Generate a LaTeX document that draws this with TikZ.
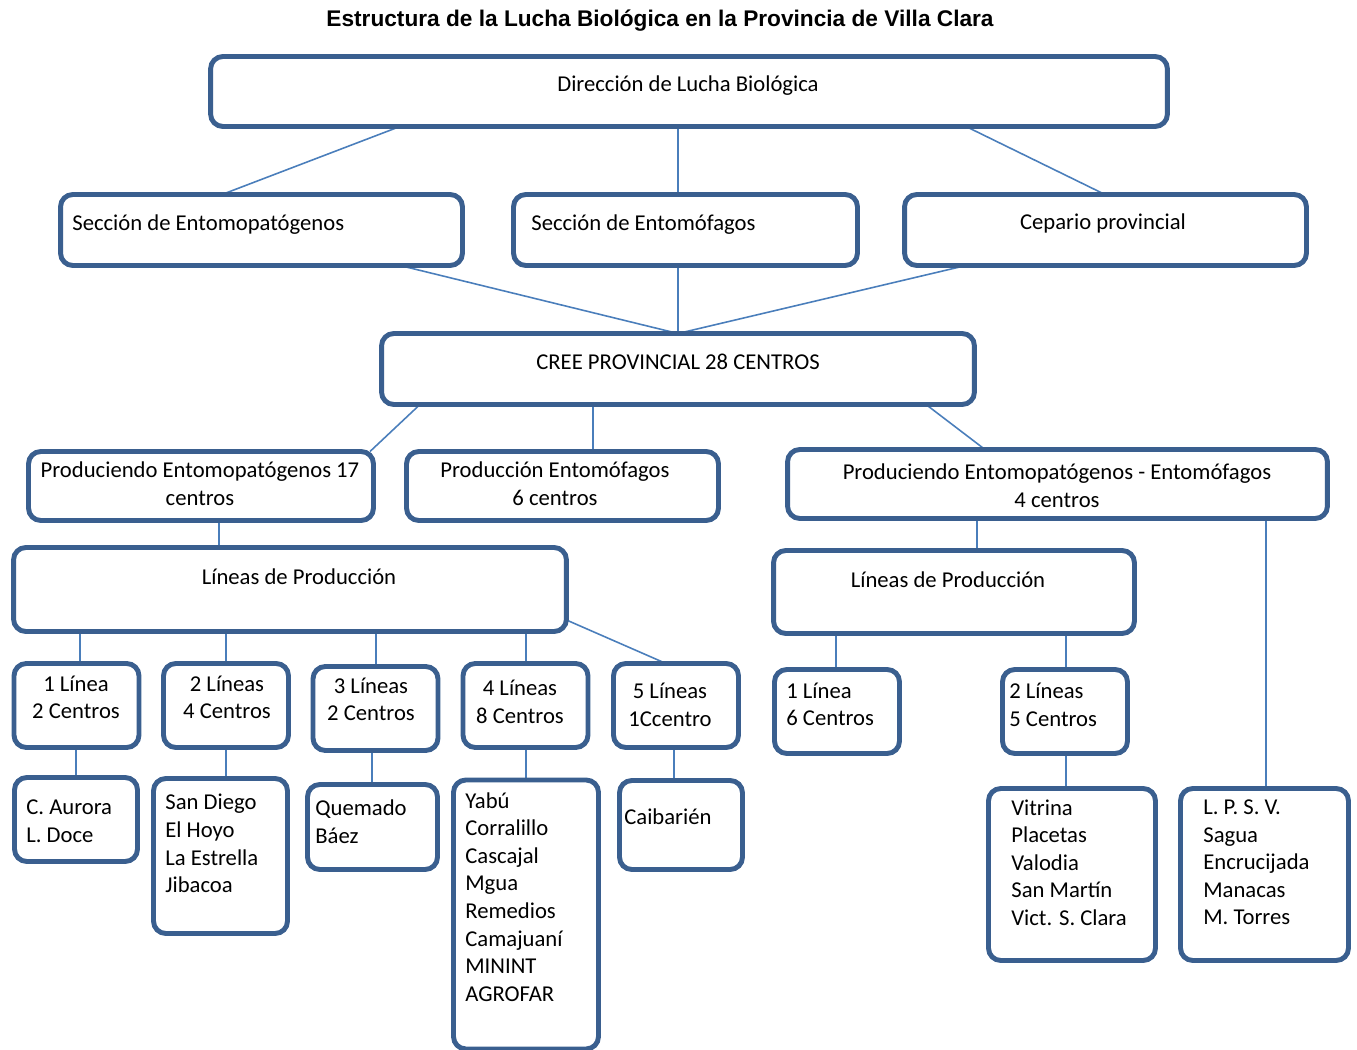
\documentclass[tikz,border=0pt]{standalone}
\usepackage{fontspec}
\setmainfont{Carlito}
\newfontfamily\titlefont{Liberation Sans}
\usepackage{tikz}
\usetikzlibrary{positioning,calc,backgrounds}
\definecolor{boxblue}{HTML}{3A5F8F}
\definecolor{linkblue}{HTML}{4A7EBB}
\tikzset{
   caja/.style={draw=boxblue, line width=2.8pt, rounded corners=7pt, fill=white,
      inner sep=0pt, outer sep=0pt},
   enlace/.style={draw=linkblue, line width=0.9pt},
   txt/.style={inner sep=0pt, font=\fontsize{12.9pt}{15.7pt}\selectfont},
   txtl/.style={txt, anchor=west, align=left},
   txtc/.style={txt, align=center}
}

\begin{document}
\begin{tikzpicture}[x=0.02cm, y=-0.02cm]
      \useasboundingbox (0,0) rectangle (1357,1050);

      \node[inner sep=0pt, font=\titlefont\bfseries\fontsize{12.9pt}{15pt}\selectfont]
         (titulo) at (660,21) {Estructura de la Lucha Biológica en la Provincia de Villa Clara};

      % cajas
      \node[caja, minimum width=19.14cm, minimum height=1.40cm] (dir) at (689,91.5) {};
      \node[caja, minimum width=8.04cm, minimum height=1.42cm] (secA) at (261.5,230) {};
      \node[caja, minimum width=6.88cm, minimum height=1.42cm] (secB) at (685.5,230) {};
      \node[caja, minimum width=8.04cm, minimum height=1.42cm] (cep) at (1105.5,230) {};
      \node[caja, minimum width=11.86cm, minimum height=1.42cm] (cree) at (678,369) {};
      \node[caja, minimum width=6.90cm, minimum height=1.38cm] (prodA) at (201,486) {};
      \node[caja, minimum width=6.24cm, minimum height=1.38cm] (prodB) at (562.5,486) {};
      \node[caja, minimum width=10.80cm, minimum height=1.38cm] (prodC) at (1057.5,484) {};
      \node[caja, minimum width=11.06cm, minimum height=1.68cm] (linA) at (290,589.5) {};
      \node[caja, minimum width=7.22cm, minimum height=1.66cm] (linB) at (954,592) {};

      \node[caja, minimum width=2.50cm, minimum height=1.68cm] (l1) at (76.5,705.5) {};
      \node[caja, minimum width=2.50cm, minimum height=1.68cm] (l2) at (226,705.5) {};
      \node[caja, minimum width=2.50cm, minimum height=1.68cm] (l3) at (375.5,708.5) {};
      \node[caja, minimum width=2.50cm, minimum height=1.68cm] (l4) at (525.5,705.5) {};
      \node[caja, minimum width=2.50cm, minimum height=1.68cm] (l5) at (676,705.5) {};
      \node[caja, minimum width=2.50cm, minimum height=1.68cm] (r1) at (837,711.5) {};
      \node[caja, minimum width=2.50cm, minimum height=1.68cm] (r2) at (1065,711.5) {};

      \node[caja, minimum width=2.46cm, minimum height=1.68cm] (bA) at (76,819.5) {};
      \node[caja, minimum width=2.68cm, minimum height=3.10cm] (bB) at (220.5,856) {};
      \node[caja, minimum width=2.60cm, minimum height=1.70cm] (bC) at (372.5,827) {};
      \node[caja, minimum width=2.90cm, minimum height=5.38cm] (bD) at (526,914.5) {};
      \node[caja, minimum width=2.46cm, minimum height=1.78cm] (bE) at (681,825) {};
      \node[caja, minimum width=3.34cm, minimum height=3.44cm] (bF) at (1072,874.5) {};
      \node[caja, minimum width=3.36cm, minimum height=3.44cm] (bG) at (1264.5,874.5) {};

      % textos
      \node[txtc] (tdir) at (688,86) {Dirección de Lucha Biológica};
      \node[txtl] (tsecA) at (72,225) {Sección de Entomopatógenos};
      \node[txtl] (tsecB) at (531,225) {Sección de Entomófagos};
      \node[txtc] (tcep) at (1103,223) {Cepario provincial};
      \node[txtc] (tcree) at (678,362) {CREE PROVINCIAL 28 CENTROS};
      \node[txtc] (tprodA) at (200,484) {Produciendo Entomopatógenos 17\\centros};
      \node[txtc] (tprodB) at (555,484) {Producción Entomófagos\\6 centros};
      \node[txtc] (tprodC) at (1057,486) {Produciendo Entomopatógenos - Entomófagos\\4 centros};
      \node[txtc] (tlinA) at (299,577) {Líneas de Producción};
      \node[txtc] (tlinB) at (948,580) {Líneas de Producción};

      \node[txtc] (tl1) at (76,697.5) {1 Línea\\2 Centros};
      \node[txtc] (tl2) at (227,697.5) {2 Líneas\\4 Centros};
      \node[txtc] (tl3) at (371,699.5) {3 Líneas\\2 Centros};
      \node[txtc] (tl4) at (520,702) {4 Líneas\\8 Centros};
      \node[txtc] (tl5) at (670,705) {5 Líneas\\1Ccentro};
      \node[txtl] (tr1) at (786,704.5) {1 Línea\\6 Centros};
      \node[txtl] (tr2) at (1009,705) {2 Líneas\\5 Centros};

      \node[txtl] (tbA) at (26,821) {C. Aurora\\L. Doce};
      \node[txtl] (tbB) at (165,843.5) {San Diego\\El Hoyo\\La Estrella\\Jibacoa};
      \node[txtl] (tbC) at (315,821.5) {Quemado\\Báez};
      \node[txtl] (tbD) at (465,897) {Yabú\\Corralillo\\Cascajal\\Mgua\\Remedios\\Camajuaní\\MININT\\AGROFAR};
      \node[txtl] (tbE) at (624,817) {Caibarién};
      \node[txtl] (tbF) at (1011,862.5) {Vitrina\\Placetas\\Valodia\\San Martín\\Vict. S. Clara};
      \node[txtl] (tbG) at (1203,862.5) {L. P. S. V.\\Sagua\\Encrucijada\\Manacas\\M. Torres};

      % enlaces
      \begin{scope}[on background layer]
         \draw[enlace] (dir.south -| 400,0) -- (secA.north -| 222,0);
         \draw[enlace] (dir.south -| 678,0) -- (secB.north -| 678,0);
         \draw[enlace] (dir.south -| 966,0) -- (cep.north -| 1105,0);
         \draw[enlace] (secA.south -| 400,0) -- (cree.north -| 678,0);
         \draw[enlace] (secB.south -| 678,0) -- (cree.north -| 678,0);
         \draw[enlace] (cep.south -| 966,0) -- (cree.north -| 678,0);
         \draw[enlace] (cree.south -| 420,0) -- (prodA.north -| 370,0);
         \draw[enlace] (cree.south -| 593,0) -- (prodB.north -| 593,0);
         \draw[enlace] (cree.south -| 926,0) -- (prodC.north -| 985,0);
         \draw[enlace] (prodA.south -| 219,0) -- (linA.north -| 219,0);
         \draw[enlace] (prodC.south -| 977,0) -- (linB.north -| 977,0);
         \draw[enlace] (prodC.south -| 1266,0) -- (bG.north -| 1266,0);
         \draw[enlace] (linA.south -| 80,0) -- (l1.north -| 80,0);
         \draw[enlace] (linA.south -| 226,0) -- (l2.north -| 226,0);
         \draw[enlace] (linA.south -| 376,0) -- (l3.north -| 376,0);
         \draw[enlace] (linA.south -| 526,0) -- (l4.north -| 526,0);
         \draw[enlace] (linA.east |- 0,620) -- (l5.north -| 666,0);
         \draw[enlace] (linB.south -| 836,0) -- (r1.north -| 836,0);
         \draw[enlace] (linB.south -| 1066,0) -- (r2.north -| 1066,0);
         \draw[enlace] (l1.south -| 76,0) -- (bA.north -| 76,0);
         \draw[enlace] (l2.south -| 226,0) -- (bB.north -| 226,0);
         \draw[enlace] (l3.south -| 372,0) -- (bC.north -| 372,0);
         \draw[enlace] (l4.south -| 526,0) -- (bD.north -| 526,0);
         \draw[enlace] (l5.south -| 674,0) -- (bE.north -| 674,0);
         \draw[enlace] (r2.south -| 1066,0) -- (bF.north -| 1066,0);
      \end{scope}
\end{tikzpicture}
\end{document}
